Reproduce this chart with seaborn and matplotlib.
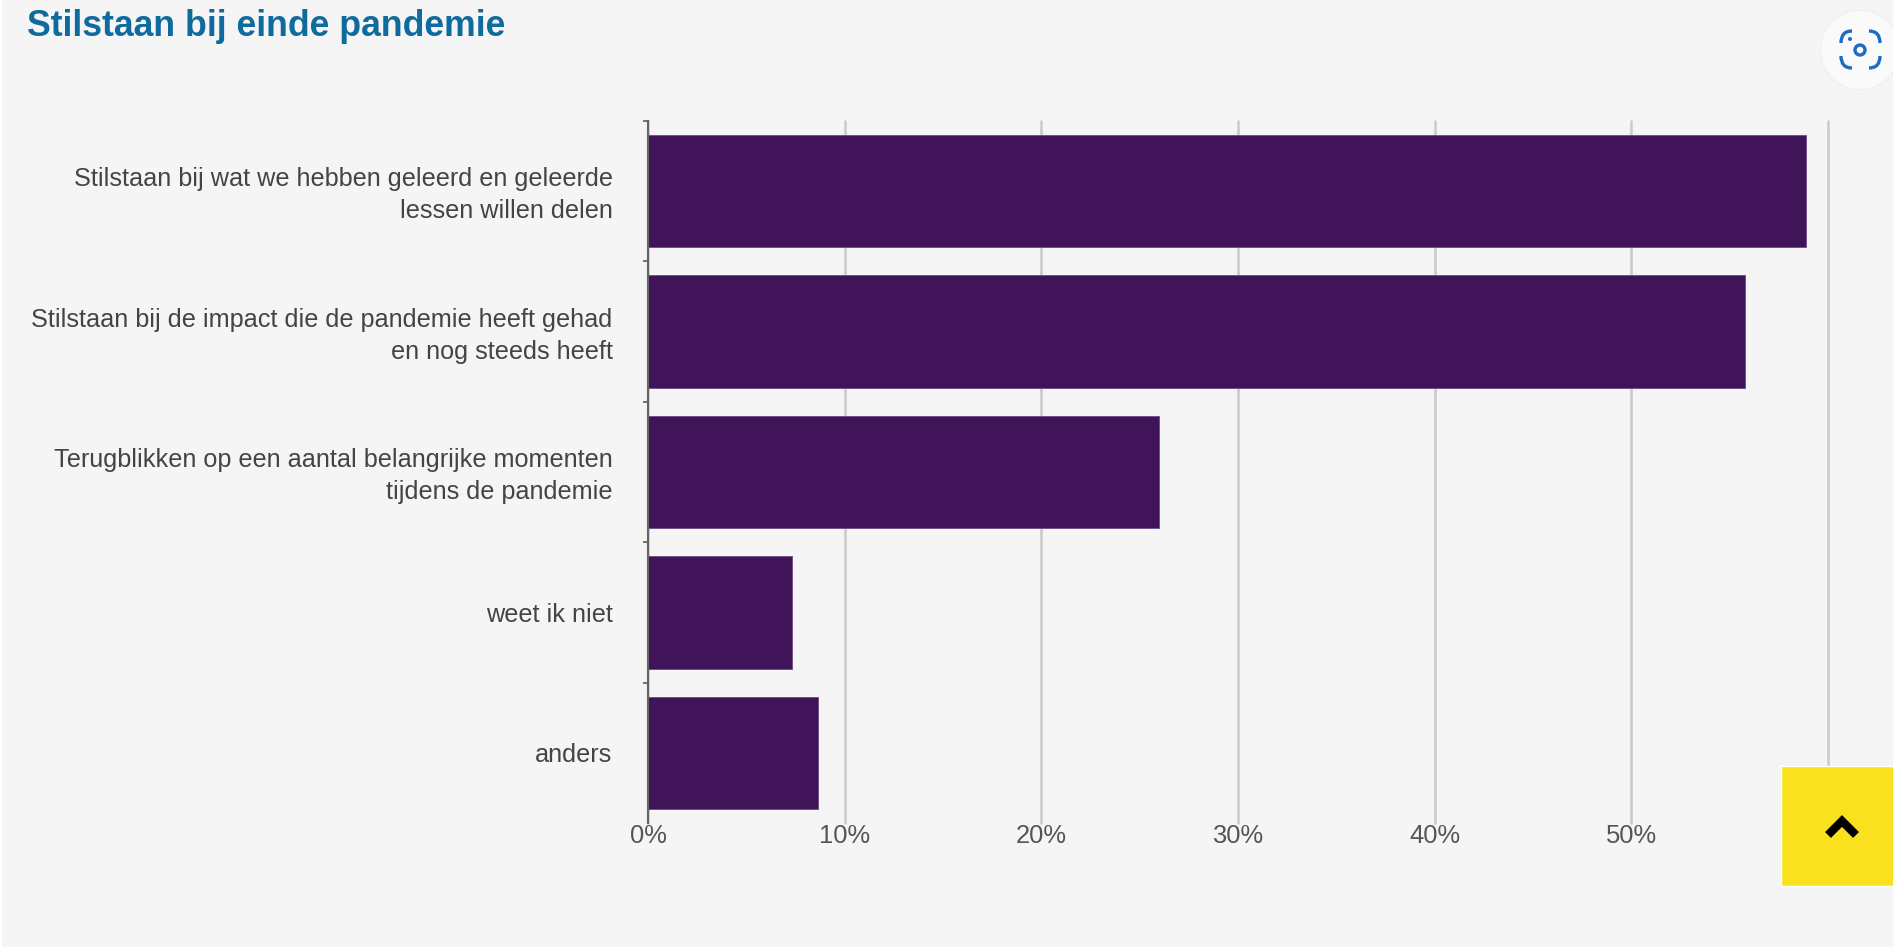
import matplotlib
matplotlib.use("Agg")
import matplotlib.pyplot as plt
from matplotlib.patches import Circle, PathPatch, Rectangle
from matplotlib.path import Path
from matplotlib.transforms import ScaledTranslation
import seaborn as sns

categories = [
    "Stilstaan bij wat we hebben geleerd en geleerde\nlessen willen delen",
    "Stilstaan bij de impact die de pandemie heeft gehad\nen nog steeds heeft",
    "Terugblikken op een aantal belangrijke momenten\ntijdens de pandemie",
    "weet ik niet",
    "anders",
]
values = [58.9, 55.8, 26.0, 7.3, 8.65]
x_ticks = [0, 10, 20, 30, 40, 50, 60]
x_labels = ["0%", "10%", "20%", "30%", "40%", "50%", "60%"]
title = "Stilstaan bij einde pandemie"

W, H = 1893, 947
BG = "#f5f5f5"

sns.set_theme(style="white")
plt.rcParams["font.family"] = ["Liberation Sans", "DejaVu Sans"]

fig = plt.figure(figsize=(W / 100, H / 100), dpi=100, facecolor=BG)
ax = fig.add_axes([648 / W, 1 - 823 / H, (1828 - 648) / W, (823 - 121) / H], facecolor=BG)

sns.barplot(x=values, y=categories, color="#41145a", saturation=1, width=0.8,
            edgecolor="#6d4a82", linewidth=0.6, ax=ax, zorder=3)

ax.set_xlim(0, 60)
ax.set_ylim(4.5, -0.5)
ax.set_xticks(x_ticks, x_labels)
ax.grid(axis="x", color="#cccccc", linewidth=1.9, zorder=0)
ax.set_axisbelow(True)
for line in ax.get_xgridlines():
    line.set_clip_on(False)
ax.tick_params(axis="x", length=0, pad=1, labelsize=18.4, labelcolor="#555555")
ax.tick_params(axis="y", which="major", length=0, pad=25.5, labelsize=18.2, labelcolor="#444444")
ax.set_yticks([-0.5, 0.5, 1.5, 2.5, 3.5], minor=True)
ax.tick_params(axis="y", which="minor", left=True, length=3.5, width=1.3, color="#666666")
# two line labels sit a little high in the reference
nudge = ScaledTranslation(0, 2.5 / 100, fig.dpi_scale_trans)
for label in ax.get_yticklabels():
    label.set_linespacing(1.42)
    if "\n" in label.get_text():
        label.set_transform(label.get_transform() + nudge)
for side in ["top", "right", "bottom"]:
    ax.spines[side].set_visible(False)
ax.spines["left"].set_color("#666666")
ax.spines["left"].set_linewidth(1.5)
ax.spines["left"].set_zorder(5)
ax.set_xlabel("")
ax.set_ylabel("")

# page bits on top of the chart, in pixel coordinates
page = fig.add_axes([0, 0, 1, 1], facecolor="none")
page.set_xlim(0, W)
page.set_ylim(H, 0)
page.axis("off")

page.add_patch(Rectangle((0, 0), 2, H, color="#ffffff", lw=0))
page.text(27, 26, title, fontsize=25.7, fontweight="bold", color="#0f6a9e", ha="left", va="center")

# scroll to top button
page.add_patch(Rectangle((1781, 766), 115, 120, facecolor="#f9e11e", edgecolor="#ffffff", lw=1))
page.plot([1828, 1842, 1856], [835, 821, 835], color="black", lw=6, solid_joinstyle="miter",
          solid_capstyle="butt")

# screenshot button
page.add_patch(Circle((1860, 50), 40, color="#f0f0f0", lw=0))
page.add_patch(Circle((1860, 50), 39, color="#fafafa", lw=0))
blue = "#1a6cc4"
L, R, T, B = 1841, 1880, 31, 68
corners = [
    ([(L, T + 12), (L, T), (L + 11, T)]),
    ([(R - 11, T), (R, T), (R, T + 12)]),
    ([(L, B - 12), (L, B), (L + 11, B)]),
    ([(R - 11, B), (R, B), (R, B - 12)]),
]
for pts in corners:
    page.add_patch(PathPatch(Path(pts, [Path.MOVETO, Path.CURVE3, Path.CURVE3]),
                             facecolor="none", edgecolor=blue, lw=2.4))
page.add_patch(Circle((1860, 50), 5, facecolor="none", edgecolor=blue, lw=2.4))
page.add_patch(Circle((1850, 39), 2, color=blue, lw=0))

fig.savefig("out.png", dpi=100, facecolor=BG)
